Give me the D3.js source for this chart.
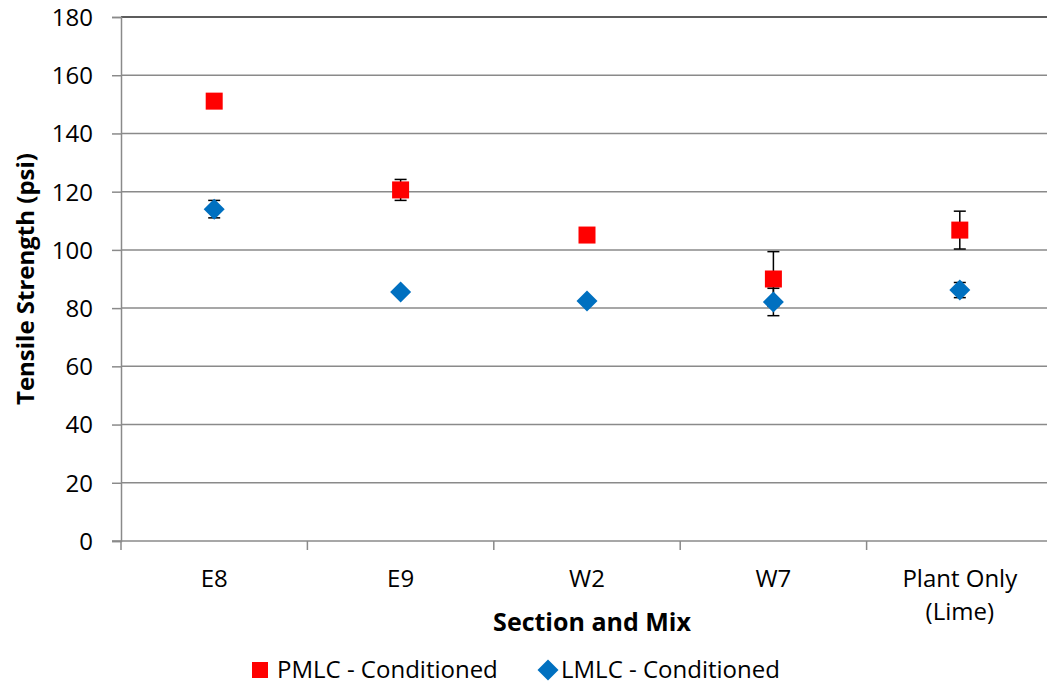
<!DOCTYPE html>
<html>
<head>
<meta charset="utf-8">
<script src="https://cdn.jsdelivr.net/npm/d3@7"></script>
<style>
  body { margin: 0; background: #fff; }
  text { font-family: "Open Sans", "Liberation Sans", sans-serif; fill: #000; }
</style>
</head>
<body>
<svg id="chart" width="1047" height="686"></svg>
<script>
// chart data
var categories = ["E8", "E9", "W2", "W7", "Plant Only\n(Lime)"];
var pmlcValues = [151.1, 120.6, 105.1, 90.0, 106.8];
var pmlcErrors = [1.0, 3.6, 1.0, 9.4, 6.5];
var lmlcValues = [114.0, 85.5, 82.4, 82.1, 86.2];
var lmlcErrors = [3.0, 1.0, 1.0, 4.7, 2.6];
var yTicks = [0, 20, 40, 60, 80, 100, 120, 140, 160, 180];

var svg = d3.select("#chart");

var margin = {top: 17, left: 121, bottom: 145};
var plotRight = 1053,
    plotBottom = 686 - margin.bottom;

var xScale = d3.scaleBand()
    .domain(categories)
    .range([margin.left, plotRight]);

var yScale = d3.scaleLinear()
    .domain([0, 180])
    .range([plotBottom, margin.top]);

// gridlines
svg.append("g")
    .selectAll("line")
    .data(yTicks.filter(function(d) { return d > 0; }))
    .enter().append("line")
    .attr("x1", margin.left)
    .attr("x2", plotRight)
    .attr("y1", function(d) { return yScale(d); })
    .attr("y2", function(d) { return yScale(d); })
    .attr("stroke", function(d) { return d == 180 ? "#262626" : "#8a8a8a"; })
    .attr("stroke-width", 1.5);

// y axis
var yAxis = d3.axisLeft(yScale)
    .tickValues(yTicks)
    .tickSize(9)
    .tickPadding(19);

var yAxisGroup = svg.append("g")
    .attr("transform", "translate(" + margin.left + ",0)")
    .call(yAxis);
yAxisGroup.select(".domain").attr("stroke", "#8a8a8a").attr("stroke-width", 1.5);
yAxisGroup.selectAll(".tick line").attr("stroke", "#8a8a8a").attr("stroke-width", 1.5);
yAxisGroup.selectAll("text")
    .style("font-size", "24px")
    .attr("dy", "0.35em");

// x axis
var xTickPos = categories.map(function(d) { return xScale(d); }).concat([plotRight]);
var xAxisGroup = svg.append("g");
xAxisGroup.append("line")
    .attr("x1", margin.left - 9)
    .attr("x2", plotRight)
    .attr("y1", plotBottom)
    .attr("y2", plotBottom)
    .attr("stroke", "#8a8a8a")
    .attr("stroke-width", 1.5);
xAxisGroup.selectAll(".xtick")
    .data(xTickPos)
    .enter().append("line")
    .attr("class", "xtick")
    .attr("x1", function(d) { return d; })
    .attr("x2", function(d) { return d; })
    .attr("y1", plotBottom)
    .attr("y2", plotBottom + 9)
    .attr("stroke", "#8a8a8a")
    .attr("stroke-width", 1.5);

xAxisGroup.selectAll(".xlabel")
    .data(categories)
    .enter().append("text")
    .attr("class", "xlabel")
    .attr("text-anchor", "middle")
    .style("font-size", "24px")
    .attr("transform", function(d) {
        return "translate(" + (xScale(d) + xScale.bandwidth() / 2) + "," + (plotBottom + 46) + ")";
    })
    .each(function(d) {
        var lines = d.split("\n");
        var t = d3.select(this);
        lines.forEach(function(line, i) {
            t.append("tspan")
                .attr("x", 0)
                .attr("y", i * 33)
                .text(line);
        });
    });

// axis titles
svg.append("text")
    .attr("x", 592)
    .attr("y", 631)
    .attr("text-anchor", "middle")
    .style("font-size", "25px")
    .style("font-weight", "bold")
    .text("Section and Mix");

svg.append("text")
    .attr("transform", "translate(34," + ((margin.top + plotBottom) / 2) + ") rotate(-90)")
    .attr("text-anchor", "middle")
    .style("font-size", "24px")
    .style("font-weight", "bold")
    .text("Tensile Strength (psi)");

function cx(i) { return xScale(categories[i]) + xScale.bandwidth() / 2; }

function drawErrors(values, errors) {
    var g = svg.append("g").attr("stroke", "#000").attr("stroke-width", 1.5);
    values.forEach(function(v, i) {
        var x = cx(i),
            yHi = yScale(v + errors[i]),
            yLo = yScale(v - errors[i]);
        g.append("line").attr("x1", x).attr("x2", x).attr("y1", yHi).attr("y2", yLo);
        g.append("line").attr("x1", x - 6).attr("x2", x + 6).attr("y1", yHi).attr("y2", yHi);
        g.append("line").attr("x1", x - 6).attr("x2", x + 6).attr("y1", yLo).attr("y2", yLo);
    });
}

// PMLC series
drawErrors(pmlcValues, pmlcErrors);
svg.append("g")
    .selectAll("rect")
    .data(pmlcValues)
    .enter().append("rect")
    .attr("x", function(d, i) { return cx(i) - 8.5; })
    .attr("y", function(d) { return yScale(d) - 8.5; })
    .attr("width", 17)
    .attr("height", 17)
    .attr("fill", "#ff0000");

// LMLC series
drawErrors(lmlcValues, lmlcErrors);
var diamond = "M0,-10.5L10.5,0L0,10.5L-10.5,0Z";
svg.append("g")
    .selectAll("path")
    .data(lmlcValues)
    .enter().append("path")
    .attr("d", diamond)
    .attr("transform", function(d, i) { return "translate(" + cx(i) + "," + yScale(d) + ")"; })
    .attr("fill", "#0070c0");

// legend
var legend = svg.append("g");
legend.append("rect")
    .attr("x", 252).attr("y", 662).attr("width", 16).attr("height", 16)
    .attr("fill", "#ff0000");
legend.append("text")
    .attr("x", 277).attr("y", 678)
    .style("font-size", "24px")
    .text("PMLC - Conditioned");
legend.append("path")
    .attr("d", diamond)
    .attr("transform", "translate(548,670)")
    .attr("fill", "#0070c0");
legend.append("text")
    .attr("x", 561).attr("y", 678)
    .style("font-size", "24px")
    .text("LMLC - Conditioned");
</script>
</body>
</html>
